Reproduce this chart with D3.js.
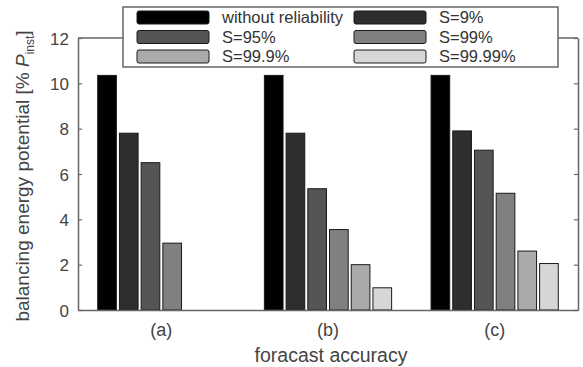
<!DOCTYPE html>
<html>
<head>
<meta charset="utf-8">
<script src="https://cdn.jsdelivr.net/npm/d3@7"></script>
<style>
  body { margin: 0; background: #fff; }
  text { font-family: "Liberation Sans", Arial, sans-serif; }
</style>
</head>
<body>
<svg width="583" height="367"></svg>
<script>
// groups on the x axis
var groups = ["(a)", "(b)", "(c)"];
// series (legend order)
var series = ["without reliability", "S=9%", "S=95%", "S=99%", "S=99.9%", "S=99.99%"];
var colors = ["#000000", "#2e2e2e", "#555555", "#808080", "#aaaaaa", "#d6d6d6"];
// values per series, one per group
var withoutRel = [10.35, 10.35, 10.35];
var s9 = [7.8, 7.8, 7.9];
var s95 = [6.5, 5.35, 7.05];
var s99 = [2.95, 3.55, 5.15];
var s999 = [0, 2.0, 2.6];
var s9999 = [0, 0.98, 2.05];
var yTicks = [0, 2, 4, 6, 8, 10, 12];

var values = [withoutRel, s9, s95, s99, s999, s9999];

var margin = {top: 38, right: 5, bottom: 57, left: 78},
    width = 583 - margin.left - margin.right,
    height = 367 - margin.top - margin.bottom;

var svg = d3.select("svg")
  .append("g")
  .attr("transform", "translate(" + margin.left + "," + margin.top + ")");

var x0 = d3.scaleBand()
  .domain(groups)
  .range([0, width])
  .paddingInner(0.2)
  .paddingOuter(0.1);

var x1 = d3.scaleBand()
  .domain(d3.range(series.length))
  .range([0, x0.bandwidth()])
  .padding(0.14);

var y = d3.scaleLinear()
  .domain([0, 12])
  .range([height, 0]);

// bars
var rows = [];
groups.forEach(function(g, gi) {
  values.forEach(function(v, si) {
    rows.push({group: g, s: si, value: v[gi]});
  });
});

svg.selectAll("rect.bar")
  .data(rows)
  .enter()
  .append("rect")
  .attr("class", "bar")
  .attr("x", function(d) { return x0(d.group) + x1(d.s); })
  .attr("y", function(d) { return y(d.value); })
  .attr("width", x1.bandwidth())
  .attr("height", function(d) { return height - y(d.value); })
  .attr("fill", function(d) { return colors[d.s]; })
  .attr("stroke", "#1a1a1a")
  .attr("stroke-width", 1)
  .style("display", function(d) { return d.value > 0 ? null : "none"; });

var axisColor = "#666";

// left axis
var yl = svg.append("g")
  .call(d3.axisLeft(y).tickValues(yTicks).tickSizeInner(-4).tickSizeOuter(0).tickPadding(9));
// right axis
var yr = svg.append("g")
  .attr("transform", "translate(" + width + ",0)")
  .call(d3.axisRight(y).tickValues(yTicks).tickSizeInner(-4).tickSizeOuter(0).tickFormat(""));
// bottom axis
var xb = svg.append("g")
  .attr("transform", "translate(0," + height + ")")
  .call(d3.axisBottom(x0).tickSize(0).tickPadding(13));
// top border
svg.append("line")
  .attr("x1", 0).attr("x2", width)
  .attr("y1", 0).attr("y2", 0)
  .attr("stroke", axisColor).attr("stroke-width", 1.5);

[yl, yr, xb].forEach(function(a) {
  a.select(".domain").attr("stroke", axisColor).attr("stroke-width", 1.5);
  a.selectAll(".tick line").attr("stroke", axisColor).attr("stroke-width", 1.2);
  a.selectAll("text")
    .attr("fill", "#444")
    .style("font-size", "17px")
    .style("font-family", "'Liberation Sans', Arial, sans-serif");
});
xb.selectAll("text").style("font-size", "18px");
yl.selectAll("text").attr("dy", "0.36em");

// axis labels
svg.append("text")
  .attr("x", width / 2 + 3)
  .attr("y", height + 52)
  .attr("text-anchor", "middle")
  .attr("fill", "#444")
  .style("font-size", "19.5px")
  .text("foracast accuracy");

var yLab = svg.append("text")
  .attr("transform", "translate(-49," + (height / 2 + 2) + ") rotate(-90)")
  .attr("text-anchor", "middle")
  .attr("fill", "#444")
  .style("font-size", "19px");
yLab.append("tspan").text("balancing energy potential [% ");
yLab.append("tspan").style("font-style", "italic").text("P");
yLab.append("tspan").attr("dy", "5").style("font-size", "12px").text("inst");
yLab.append("tspan").attr("dy", "-5").text("]");

// legend
var legend = d3.select("svg").append("g")
  .attr("transform", "translate(123,7)");

legend.append("rect")
  .attr("x", 0).attr("y", 0)
  .attr("width", 435).attr("height", 60)
  .attr("fill", "#fff")
  .attr("stroke", axisColor)
  .attr("stroke-width", 1.5);

var legItems = legend.selectAll("g.item")
  .data(series)
  .enter()
  .append("g")
  .attr("class", "item")
  .attr("transform", function(d, i) {
    return "translate(" + (i % 2 === 0 ? 14 : 231) + "," + (4 + Math.floor(i / 2) * 19.5) + ")";
  });

legItems.append("rect")
  .attr("width", 72).attr("height", 13)
  .attr("rx", 2)
  .attr("fill", function(d, i) { return colors[i]; })
  .attr("stroke", "#1a1a1a")
  .attr("stroke-width", 1);

legItems.append("text")
  .attr("x", 85)
  .attr("y", 6.5)
  .attr("dy", "0.36em")
  .attr("fill", "#333")
  .style("font-size", "16.5px")
  .text(function(d) { return d; });
</script>
</body>
</html>
